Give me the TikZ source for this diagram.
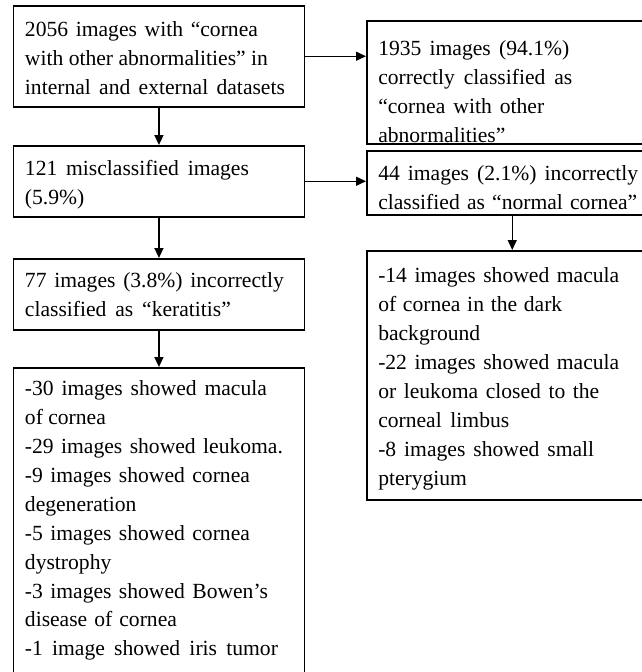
\documentclass[tikz,border=0pt]{standalone}
\usepackage{fontspec}
\setmainfont{Liberation Serif}
\usetikzlibrary{arrows.meta}
\newcommand{\jl}[2]{\makebox[#1pt][s]{#2}}
\newcommand{\boxtext}[3]{\parbox[t][#1pt][t]{291pt}{\raggedright\leftskip=11.5pt\rule{0pt}{#2pt}#3}}
\tikzset{
  box/.style={draw, line width=1.5pt, inner sep=0pt, anchor=north west,
    font=\fontsize{21.6}{28.9}\selectfont},
  arr/.style={line width=1.5pt, -{Triangle[length=10pt,width=9pt]}}
}
\begin{document}
\begin{tikzpicture}[x=1pt,y=1pt]
\useasboundingbox (0,0) rectangle (642,-672);
\fill[white] (0,0) rectangle (642,-672);
\clip (0,0) rectangle (642,-672);
\node[box] (A) at (12.7,-5) {\boxtext{101}{31}{\jl{233}{2056 images with “cornea}\\
  \jl{243}{with other abnormalities” in}\\
  \jl{260}{internal and external datasets}}};
\node[box] (B) at (12.7,-145) {\boxtext{71}{30}{\jl{224}{121 misclassified images}\\
  (5.9\%)}};
\node[box] (C) at (12.7,-258) {\boxtext{71}{29}{\jl{259}{77 images (3.8\%) incorrectly}\\
  \jl{206}{classified as “keratitis”}}};
\node[box] (D) at (12.7,-367) {\boxtext{330}{28}{\jl{242}{-30 images showed macula}\\
  of cornea\\
  \jl{258}{-29 images showed leukoma.}\\
  \jl{225}{-9 images showed cornea}\\
  degeneration\\
  \jl{225}{-5 images showed cornea}\\
  dystrophy\\
  \jl{243}{-3 images showed Bowen’s}\\
  \jl{152}{disease of cornea}\\
  \jl{253}{-1 image showed iris tumor}}};
\node[box] (E) at (366,-20) {\boxtext{123}{35}{\jl{191}{1935 images (94.1\%)}\\
  \jl{194}{correctly classified as}\\
  \jl{166}{“cornea with other}\\
  abnormalities”}};
\node[box] (F) at (366,-150) {\boxtext{64}{30}{\jl{260}{44 images (2.1\%) incorrectly}\\
  \jl{259}{classified as “normal cornea”}}};
\node[box] (G) at (366,-250) {\boxtext{249}{32}{\jl{241}{-14 images showed macula}\\
  \jl{184}{of cornea in the dark}\\
  background\\
  \jl{241}{-22 images showed macula}\\
  \jl{221}{or leukoma closed to the}\\
  \jl{131}{corneal limbus}\\
  \jl{216}{-8 images showed small}\\
  pterygium}};
\draw[arr] (A.south) -- (B.north);
\draw[arr] (B.south) -- (C.north);
\draw[arr] (C.south) -- (D.north);
\draw[arr] (A.east) -- (A.east -| E.west);
\draw[arr] (B.east) -- (B.east -| F.west);
\draw[arr] (F.south) -- (G.north);
\end{tikzpicture}
\end{document}
